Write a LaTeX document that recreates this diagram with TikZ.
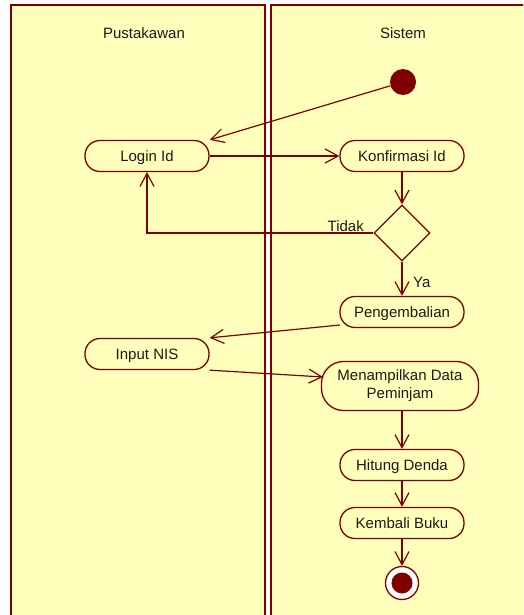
\documentclass[tikz,border=0pt]{standalone}
\usepackage{fontspec}
\setmainfont{Liberation Sans}
\usetikzlibrary{arrows.meta,shapes.geometric}
\definecolor{umlred}{HTML}{800000}
\definecolor{umlfill}{HTML}{FFFFBB}
\definecolor{umltext}{HTML}{1A1A1A}
\begin{document}
\begin{tikzpicture}[x=1pt,y=-1pt,
  lane/.style={draw=umlred,fill=umlfill,line width=2pt},
  actbase/.style={draw=umlred,fill=umlfill,line width=1.3pt,rounded corners=15pt,
    minimum width=124pt,minimum height=31pt,inner sep=2pt,align=center,
    text=umltext,font=\fontsize{15}{18}\selectfont},
  act/.style={actbase,text height=10.7pt,text depth=0pt},
  decision/.style={draw=umlred,fill=umlfill,line width=1.3pt,diamond,
    minimum width=56pt,minimum height=56pt,inner sep=0pt},
  flow/.style={draw=umlred,line width=1.2pt,
    -{Straight Barb[length=13pt,width=14pt,line width=1.2pt]}},
  lbl/.style={font=\fontsize{15}{18}\selectfont,inner sep=0pt,text=umltext},
  title/.style={font=\fontsize{15}{18}\selectfont,text=umltext}]
\useasboundingbox (0,0) rectangle (523,615);
\fill[white] (0,0) rectangle (523,615);
% swimlanes
\begin{scope}
\clip (0,0) rectangle (523,615);
\draw[lane] (11,5) rectangle (265,630);
\draw[lane] (271,5) rectangle (540,630);
\end{scope}
\node[title] (laneA) at (144,33) {Pustakawan};
\node[title] (laneB) at (403,33) {Sistem};
% nodes
\node[circle,fill=umlred,minimum size=26pt,inner sep=0pt] (start) at (403,82) {};
\node[act] (login) at (147,156) {Login Id};
\node[act] (konf) at (402,156) {Konfirmasi Id};
\node[decision] (dec) at (402,233) {};
\node[act] (kembali) at (402,312) {Pengembalian};
\node[act] (nis) at (147,354) {Input NIS};
\node[actbase,minimum width=157pt,minimum height=49pt,rounded corners=22pt]
  (tampil) at (400,386) {Menampilkan Data\\Peminjam};
\node[act] (denda) at (402,465) {Hitung Denda};
\node[act] (buku) at (402,523) {Kembali Buku};
\node[circle,draw=umlred,line width=1.3pt,fill=white,minimum size=33pt,inner sep=0pt] (end) at (402,583) {};
\node[circle,fill=umlred,minimum size=21pt,inner sep=0pt] (endcore) at (end) {};
% flows
\coordinate (pout) at (340,325);
\coordinate (tin) at (323,377);
\draw[flow] (start) -- (login.north east);
\draw[flow] (login) -- (konf);
\draw[flow] (konf) -- (dec.north);
\draw[flow] (dec.west) -- (147,233) -- (login.south);
\node[lbl,anchor=base east] (tidak) at (364,231.5) {Tidak};
\draw[flow] (dec.south) -- (kembali.north);
\node[lbl,anchor=base west] (ya) at (413,287) {Ya};
\draw[flow] (pout) -- (nis.north east);
\draw[flow] (nis.south east) -- (tin);
\draw[flow] (denda.north |- tampil.south) -- (denda.north);
\draw[flow] (denda) -- (buku);
\draw[flow] (buku) -- (end);
\end{tikzpicture}
\end{document}
